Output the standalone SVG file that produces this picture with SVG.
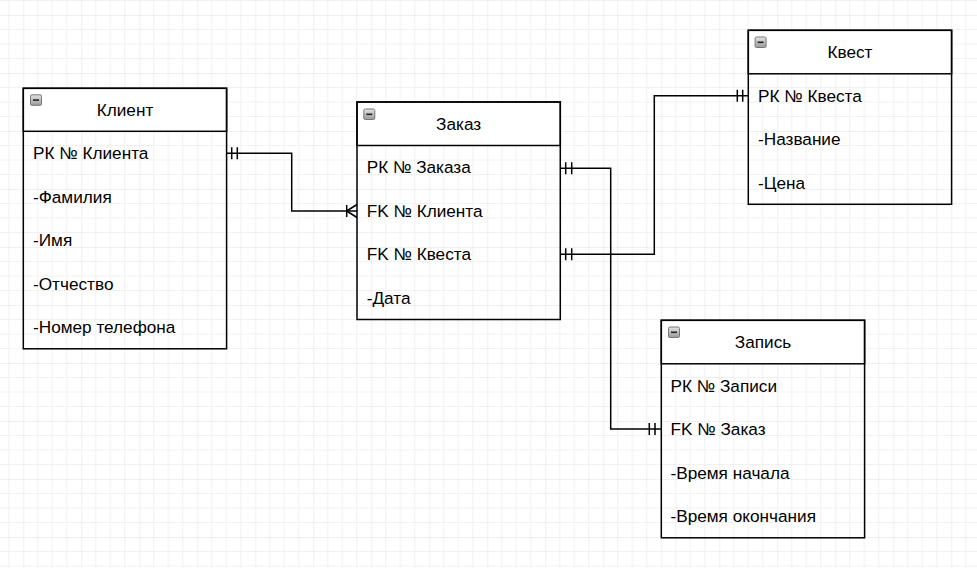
<svg xmlns="http://www.w3.org/2000/svg" width="977" height="568" viewBox="0 0 977 568">
<defs>
<pattern id="grid" patternUnits="userSpaceOnUse" x="23.3" y="15" width="58" height="58">
<path d="M14.5,0V58M29,0V58M43.5,0V58M0,14.5H58M0,29H58M0,43.5H58" stroke="#f1f1f1" stroke-width="1" fill="none"/>
<path d="M0,0V58M0,0H58" stroke="#e2e2e2" stroke-width="1" fill="none"/>
</pattern>
<linearGradient id="ig" x1="0" y1="0" x2="0" y2="1">
<stop offset="0" stop-color="#e4e4e4"/>
<stop offset="1" stop-color="#9a9a9a"/>
</linearGradient>
<g id="icon">
<rect x="0.5" y="0.5" width="11" height="10.5" rx="1.5" fill="url(#ig)" stroke="#777"/>
<path d="M3,5.8H9" stroke="#222" stroke-width="1.6"/>
</g>
</defs>
<style>
.box{fill:none;stroke:#000;stroke-width:1.5}
.hdr{fill:#fff;stroke:#000;stroke-width:1.5}
.t{font-family:"Liberation Sans",Arial,sans-serif;font-size:17.2px;fill:#000;dominant-baseline:central}
.c{text-anchor:middle}
.ln{fill:none;stroke:#000;stroke-width:1.5}
</style>
<rect width="977" height="568" fill="#fff"/>
<rect width="977" height="568" fill="url(#grid)"/>

<g id="connectors">
<path class="ln" d="M226.6,153.3H291.7V211H357"/>
<path class="ln" d="M231.7,147.3V159.3M237.3,147.3V159.3"/>
<path class="ln" d="M346.7,205V217M346.7,211L357,204.5M346.7,211L357,217.5"/>
<path class="ln" d="M560.3,168.3H610.7V429H661.3"/>
<path class="ln" d="M565.7,162.3V174.3M571.7,162.3V174.3M649.3,423V435M655,423V435"/>
<path class="ln" d="M560.3,254.3H654.3V95.7H748.3"/>
<path class="ln" d="M565.7,248.3V260.3M571.7,248.3V260.3M737.3,89.7V101.7M742.7,89.7V101.7"/>
</g>

<g id="klient">
<rect class="hdr" x="23.3" y="88.3" width="203.3" height="43"/>
<rect class="box" x="23.3" y="88.3" width="203.3" height="260.5"/>
<use href="#icon" x="30" y="94.3"/>
<text class="t c" x="125" y="109.8">Клиент</text>
<text class="t" x="33" y="153">РК № Клиента</text>
<text class="t" x="33" y="196.5">-Фамилия</text>
<text class="t" x="33" y="240">-Имя</text>
<text class="t" x="33" y="283.5">-Отчество</text>
<text class="t" x="33" y="327">-Номер телефона</text>
</g>

<g id="zakaz">
<rect class="hdr" x="357" y="102" width="203.3" height="43.5"/>
<rect class="box" x="357" y="102" width="203.3" height="217.5"/>
<use href="#icon" x="363.3" y="108.5"/>
<text class="t c" x="458.6" y="123.7">Заказ</text>
<text class="t" x="366.7" y="167.3">РК № Заказа</text>
<text class="t" x="366.7" y="210.8">FK № Клиента</text>
<text class="t" x="366.7" y="254.3">FK № Квеста</text>
<text class="t" x="366.7" y="297.8">-Дата</text>
</g>

<g id="kvest">
<rect class="hdr" x="748.3" y="30.3" width="203.3" height="43.5"/>
<rect class="box" x="748.3" y="30.3" width="203.3" height="174"/>
<use href="#icon" x="754.6" y="36.5"/>
<text class="t c" x="850" y="52">Квест</text>
<text class="t" x="758" y="95.5">РК № Квеста</text>
<text class="t" x="758" y="139">-Название</text>
<text class="t" x="758" y="182.5">-Цена</text>
</g>

<g id="zapis">
<rect class="hdr" x="661.3" y="320.3" width="203.3" height="43.5"/>
<rect class="box" x="661.3" y="320.3" width="203.3" height="217.5"/>
<use href="#icon" x="668" y="326.5"/>
<text class="t c" x="763" y="342">Запись</text>
<text class="t" x="670.5" y="385.5">РК № Записи</text>
<text class="t" x="670.5" y="429">FK № Заказ</text>
<text class="t" x="670.5" y="472.5">-Время начала</text>
<text class="t" x="670.5" y="516">-Время окончания</text>
</g>
</svg>
